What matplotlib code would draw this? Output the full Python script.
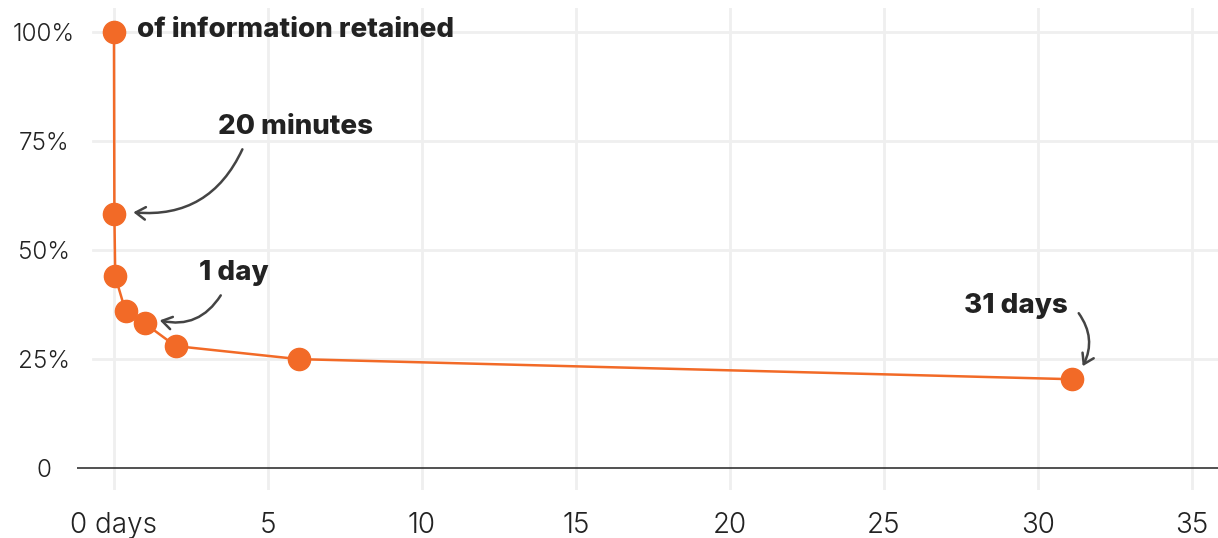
import matplotlib
matplotlib.use("Agg")
import matplotlib.pyplot as plt
from matplotlib.transforms import offset_copy

# forgetting curve, time in days
days = [0, 20 / 1440, 1 / 24, 9 / 24, 1, 2, 6, 31.1]
retained = [100, 58.2, 44, 36, 33.2, 28, 25, 20.4]

x_ticks = [0, 5, 10, 15, 20, 25, 30, 35]
x_labels = ["0 days", "5", "10", "15", "20", "25", "30", "35"]
y_ticks = [0, 25, 50, 75, 100]
y_labels = ["0", "25%", "50%", "75%", "100%"]

ORANGE = "#F26A27"
GRID = "#EFEFEF"
INK = "#222222"
ARROW = "#444444"

plt.rcParams["font.family"] = ["Inter", "DejaVu Sans"]

fig = plt.figure(figsize=(12.18, 5.38), dpi=100)
ax = fig.add_axes([77 / 1218, 48 / 538, 1141 / 1218, 482 / 538])

ax.set_xlim(-1.2, 35.85)
ax.set_ylim(-5.0, 105.5)

for s in ax.spines.values():
    s.set_visible(False)

# grid
for xv in x_ticks:
    ax.axvline(xv, color=GRID, lw=2, zorder=0)
for yv in y_ticks[1:]:
    ax.axhline(yv, xmin=16 / 1141, color=GRID, lw=2, zorder=0)
ax.axhline(0, color=INK, lw=1.1, zorder=1)

ax.set_xticks(x_ticks)
ax.set_xticklabels(x_labels, fontsize=20, color=INK, fontweight=300)
ax.set_yticks(y_ticks)
ax.set_yticklabels(y_labels, fontsize=17.5, color=INK, ha="center", fontweight=300)
ax.tick_params(axis="x", length=0, pad=16)
ax.tick_params(axis="y", length=0, pad=24)

ax.plot(days, retained, color=ORANGE, lw=1.8, marker="o", markersize=16,
        zorder=3)

bold = dict(fontsize=20, fontweight=800, color=INK)

ax.annotate("of information retained", xy=(days[0], retained[0]),
            xytext=(23, 2), textcoords="offset pixels",
            ha="left", va="center", **bold)


def arrow_note(i, text, text_off, ha, tail, tip, rad):
    ax.annotate(text, xy=(days[i], retained[i]), xytext=text_off,
                textcoords="offset pixels", ha=ha, va="center", **bold)
    tip_tr = offset_copy(ax.transData, fig=fig, x=tip[0], y=tip[1], units="dots")
    tail_tr = offset_copy(ax.transData, fig=fig, x=tail[0], y=tail[1], units="dots")
    ax.annotate("", xy=(days[i], retained[i]), xycoords=tip_tr,
                xytext=(days[i], retained[i]), textcoords=tail_tr,
                arrowprops=dict(arrowstyle="->,head_length=0.7,head_width=0.45",
                                color=ARROW, lw=1.8, shrinkA=0, shrinkB=0,
                                connectionstyle=f"arc3,rad={rad}"))


arrow_note(1, "20 minutes", (104, 87), "left", (128, 65), (19, 2), -0.35)
arrow_note(4, "1 day", (54, 50), "left", (76, 28), (15, 3), -0.35)
arrow_note(7, "31 days", (-4, 73), "right", (7, 66), (11, 13), -0.3)

fig.savefig("out.png", dpi=100)
